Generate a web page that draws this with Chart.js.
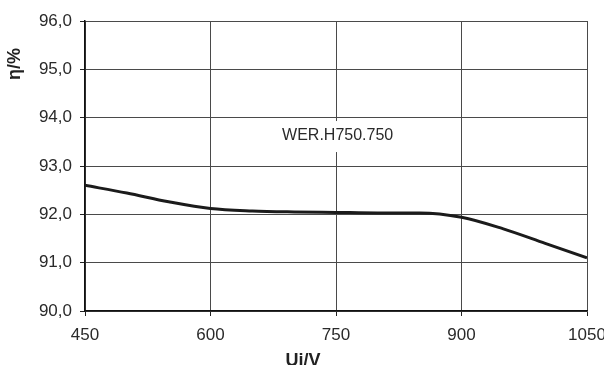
<!DOCTYPE html>
<html>
<head>
<meta charset="utf-8">
<script src="https://cdn.jsdelivr.net/npm/chart.js@4.4.1/dist/chart.umd.min.js"></script>
<style>
  html, body { margin: 0; padding: 0; background: #fff; }
  #wrap { width: 604px; height: 365px; position: relative; }
</style>
</head>
<body>
<div id="wrap"><canvas id="grafico"></canvas></div>
<script>
// dados
const tensao = [450, 500, 550, 600, 650, 700, 750, 800, 850, 900, 950, 1000, 1050];
const eficiencia = [92.6, 92.44, 92.26, 92.12, 92.07, 92.05, 92.04, 92.03, 92.03, 91.94, 91.7, 91.4, 91.1];
const ticksX = [450, 600, 750, 900, 1050];
const ticksY = [90, 91, 92, 93, 94, 95, 96];
const rotulo = 'WER.H750.750';
const tituloX = 'Ui/V';
const tituloY = 'η/%';

const fonte = '"Liberation Sans", Arial, sans-serif';
const corTexto = '#2a2a2a';

/* rotulo da curva e titulos dos eixos */
const textosPlugin = {
    id: 'textos',
    afterDraw(chart) {
        const c = chart.ctx;
        const sx = chart.scales.x, sy = chart.scales.y;
        c.save();
        // caixa branca com o nome do modelo
        const px = sx.getPixelForValue(752);
        const py = sy.getPixelForValue(93.62);
        c.font = '16px ' + fonte;
        const w = c.measureText(rotulo).width;
        c.fillStyle = '#fff';
        c.fillRect(px - w / 2 - 8, py - 15, w + 16, 31);
        c.fillStyle = corTexto;
        c.textAlign = 'center';
        c.textBaseline = 'middle';
        c.fillText(rotulo, px, py);

        // titulo eixo x
        c.font = 'bold 18px ' + fonte;
        c.fillStyle = '#222';
        c.textBaseline = 'alphabetic';
        c.fillText(tituloX, 303, 366);

        // titulo eixo y (girado)
        c.translate(20, 64);
        c.rotate(-Math.PI / 2);
        c.textBaseline = 'alphabetic';
        c.fillText(tituloY, 0, 0);
        c.restore();
    }
};

const ctx = document.getElementById('grafico').getContext('2d');
const grafico = new Chart(ctx, {
    type: 'line',
    data: {
        datasets: [{
            label: rotulo,
            data: tensao.map((v, i) => ({ x: v, y: eficiencia[i] })),
            borderColor: '#1b1b1b',
            borderWidth: 3,
            pointRadius: 0,
            cubicInterpolationMode: 'monotone',
            fill: false
        }]
    },
    options: {
        responsive: true,
        maintainAspectRatio: false,
        animation: false,
        layout: { padding: { top: 21, right: 17, left: 0, bottom: 0 } },
        plugins: {
            legend: { display: false },
            tooltip: { enabled: false }
        },
        scales: {
            x: {
                type: 'linear',
                min: 450,
                max: 1050,
                afterBuildTicks: (s) => { s.ticks = ticksX.map(v => ({ value: v })); },
                afterFit: (s) => { s.height = 54; s.paddingLeft = 0; s.paddingRight = 0; },
                grid: { color: '#4a4a4a', lineWidth: 1, tickLength: 5, tickColor: '#222' },
                border: { color: '#111', width: 1.5 },
                ticks: {
                    padding: 9,
                    color: corTexto,
                    font: { family: fonte, size: 17 },
                    maxRotation: 0,
                    callback: (v) => String(v)
                }
            },
            y: {
                min: 90,
                max: 96,
                afterBuildTicks: (s) => { s.ticks = ticksY.map(v => ({ value: v })); },
                afterFit: (s) => { s.width = 85; s.paddingTop = 0; s.paddingBottom = 0; },
                grid: { color: '#4a4a4a', lineWidth: 1, tickLength: 5, tickColor: '#222' },
                border: { color: '#111', width: 1.5 },
                ticks: {
                    padding: 8,
                    color: corTexto,
                    font: { family: fonte, size: 17 },
                    callback: (v) => v.toFixed(1).replace('.', ',')
                }
            }
        }
    },
    plugins: [textosPlugin]
});
</script>
</body>
</html>
